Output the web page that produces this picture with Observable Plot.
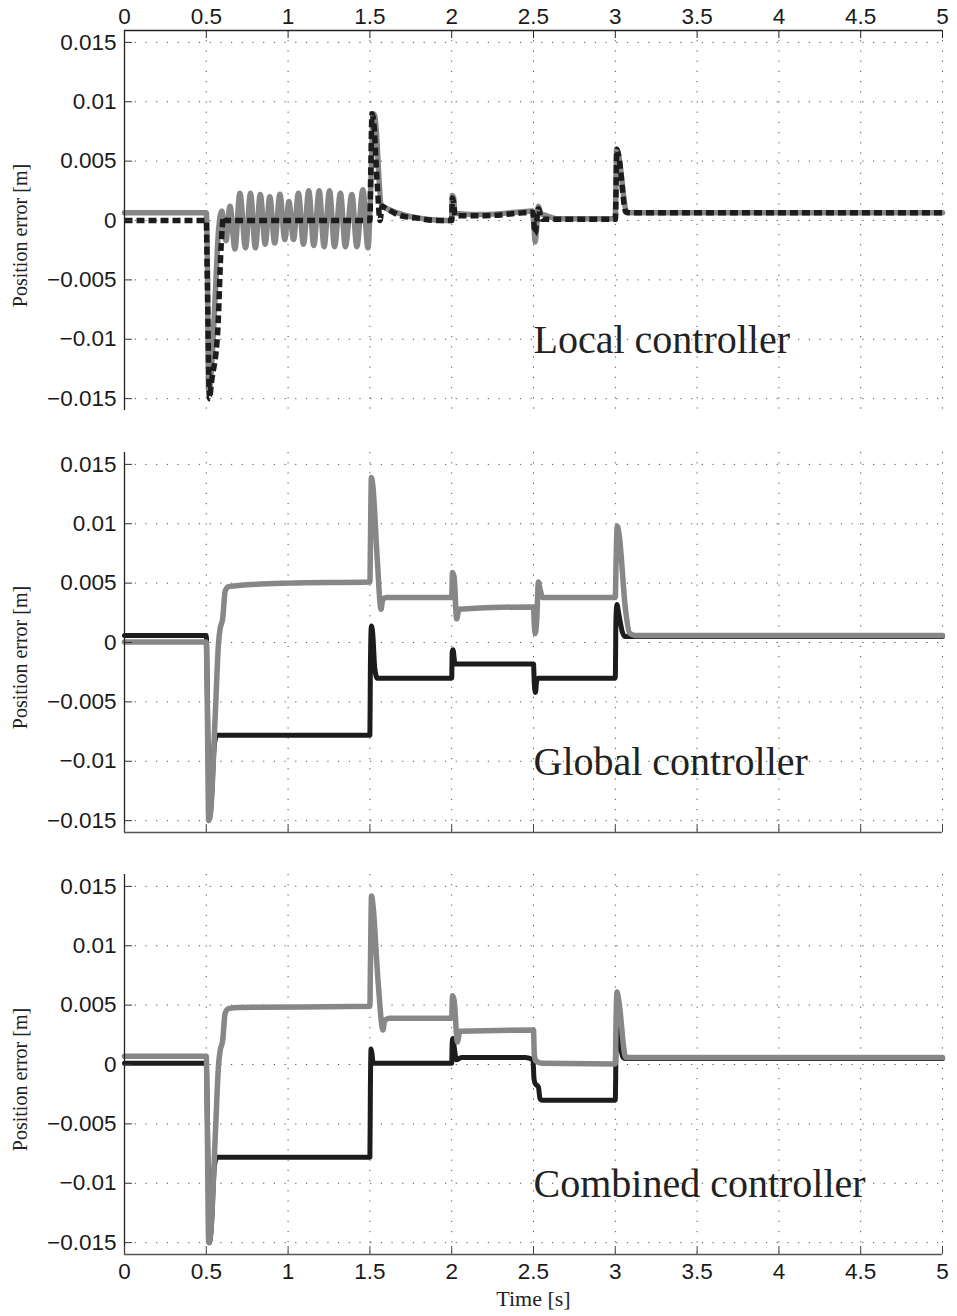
<!DOCTYPE html>
<html>
<head>
<meta charset="utf-8">
<script src="https://cdn.jsdelivr.net/npm/d3@7"></script>
<script src="https://cdn.jsdelivr.net/npm/@observablehq/plot@0.6"></script>
<style>
  body { margin: 0; background: #fff; }
  #chart { width: 957px; height: 1316px; display: flex; flex-direction: column; }
  #chart svg { display: block; overflow: visible; }
</style>
</head>
<body>
<div id="chart"></div>
<script>
// Axis ticks and labels
const xTicks = [0, 0.5, 1, 1.5, 2, 2.5, 3, 3.5, 4, 4.5, 5];
const xTickLabels = ["0", "0.5", "1", "1.5", "2", "2.5", "3", "3.5", "4", "4.5", "5"];
const yTicks = [-0.015, -0.01, -0.005, 0, 0.005, 0.01, 0.015];
const yTickLabels = ["\u22120.015", "\u22120.01", "\u22120.005", "0", "0.005", "0.01", "0.015"];
const xDomain = [0, 5];
const yDomain = [-0.016, 0.016];
const panelTitles = ["Local controller", "Global controller", "Combined controller"];
const yAxisTitle = "Position error [m]";
const xAxisTitle = "Time [s]";

// Position error traces, [time s, error m]
const localGray = [
  [0, 0.00065], [0.5, 0.00065], [0.507, -0.004], [0.514, -0.0143], [0.524, -0.0138],
  [0.554, -0.0065], [0.575, -0.0008], [0.595, 0.0008], [0.62, -0.0017], [0.645, 0.0012],
  [0.675, -0.0024], [0.705, 0.0023], [0.74, -0.0023], [0.77, 0.0023], [0.80, -0.0023],
  [0.83, 0.0022], [0.86, -0.002], [0.888, 0.002], [0.918, -0.0019], [0.95, 0.0022],
  [0.98, -0.0016], [1.005, 0.0016], [1.033, -0.0016], [1.063, 0.0023], [1.094, -0.002],
  [1.126, 0.0025], [1.157, -0.0021], [1.19, 0.0025], [1.22, -0.0022], [1.253, 0.0025],
  [1.284, -0.0022], [1.32, 0.0023], [1.35, -0.0022], [1.39, 0.0022], [1.42, -0.0022],
  [1.457, 0.0026], [1.488, -0.0023], [1.508, 0.004], [1.52, 0.009], [1.53, 0.0088],
  [1.57, 0.0013], [1.62, 0.0009], [1.7, 0.0005], [1.8, 0.0002], [1.9, 0.00005], [2.0, 0],
  [2.003, 0.0021], [2.012, 0.0019], [2.02, 0.0006], [2.2, 0.0005], [2.4, 0.0007],
  [2.495, 0.0008], [2.503, -0.0005], [2.51, -0.0018], [2.518, -0.0008], [2.53, 0.0012],
  [2.545, 0.0006], [2.58, 0.0004], [2.65, 0.00015], [3.0, 0.00015], [3.008, 0.006],
  [3.02, 0.0055], [3.07, 0.0007], [3.1, 0.00065], [5, 0.00065]
];
const localBlack = [
  [0, 0], [0.5, 0], [0.505, -0.004], [0.52, -0.015], [0.53, -0.0138], [0.57, -0.0093],
  [0.59, -0.0023], [0.605, 0.0003], [0.62, 0], [1.5, 0], [1.505, 0.004], [1.513, 0.009],
  [1.522, 0.0085], [1.545, 0.003], [1.562, 0], [1.575, 0.0012], [1.6, 0.001], [1.69, 0.0004],
  [1.79, 0.0002], [1.9, 0], [2.0, 0], [2.004, 0.0019], [2.012, 0.0015], [2.02, 0.0004],
  [2.2, 0.0004], [2.4, 0.0006], [2.495, 0.0007], [2.51, -0.0011], [2.53, 0.001], [2.55, 0.0001],
  [3.0, 0.0001], [3.01, 0.006], [3.02, 0.0055], [3.065, 0.0007], [3.1, 0.00065], [5, 0.00065]
];
const globalBlack = [
  [0, 0.0006], [0.5, 0.0006], [0.506, -0.004], [0.52, -0.0148], [0.53, -0.0135],
  [0.55, -0.0085], [0.565, -0.0078], [1.0, -0.0078], [1.5, -0.0078], [1.503, -0.002],
  [1.509, 0.0014], [1.517, 0.0008], [1.53, -0.0022], [1.545, -0.003], [2.0, -0.003],
  [2.003, -0.0008], [2.008, -0.0006], [2.02, -0.0018], [2.5, -0.0018], [2.505, -0.0035],
  [2.512, -0.0042], [2.52, -0.0032], [2.53, -0.003], [3.0, -0.003], [3.004, 0.002],
  [3.01, 0.0032], [3.02, 0.0025], [3.045, 0.0008], [3.06, 0.0005], [5, 0.0005]
];
const globalGray = [
  [0, 0.00005], [0.5, 0.00005], [0.505, -0.004], [0.515, -0.015], [0.525, -0.0145],
  [0.555, -0.006], [0.575, 0], [0.585, 0.0012], [0.6, 0.002], [0.615, 0.0043],
  [0.635, 0.0047], [0.7, 0.0048], [1.0, 0.005], [1.5, 0.0051], [1.503, 0.008],
  [1.509, 0.0139], [1.518, 0.0132], [1.545, 0.007], [1.568, 0.0028], [1.578, 0.0036],
  [1.6, 0.0038], [2.0, 0.0038], [2.005, 0.0059], [2.015, 0.0055], [2.03, 0.002],
  [2.045, 0.0028], [2.5, 0.003], [2.505, 0.0015], [2.51, 0.00075], [2.52, 0.002],
  [2.53, 0.0051], [2.54, 0.0045], [2.555, 0.0038], [3.0, 0.0038], [3.005, 0.007],
  [3.012, 0.0098], [3.022, 0.0092], [3.063, 0.0027], [3.087, 0.0008], [3.12, 0.0006], [5, 0.0006]
];
const combinedBlack = [
  [0, 0.0001], [0.5, 0.0001], [0.506, -0.004], [0.52, -0.015], [0.53, -0.0138],
  [0.55, -0.0085], [0.565, -0.0078], [1.5, -0.0078], [1.503, -0.002], [1.507, 0.0013],
  [1.513, 0.0009], [1.52, 0.0001], [2.0, 0.0001], [2.003, 0.0018], [2.007, 0.0022],
  [2.015, 0.0015], [2.028, 0.0004], [2.06, 0.0006], [2.45, 0.0006], [2.497, 0.0004],
  [2.503, -0.0012], [2.51, -0.0016], [2.53, -0.0019], [2.54, -0.0029], [2.55, -0.003],
  [3.0, -0.003], [3.004, 0.001], [3.01, 0.0032], [3.02, 0.0024], [3.047, 0.0006],
  [3.06, 0.0005], [5, 0.0005]
];
const combinedGray = [
  [0, 0.0007], [0.5, 0.0007], [0.505, -0.004], [0.515, -0.015], [0.525, -0.0145],
  [0.555, -0.006], [0.575, 0], [0.585, 0.0012], [0.6, 0.002], [0.615, 0.0043],
  [0.635, 0.0047], [0.7, 0.0048], [1.5, 0.0049], [1.503, 0.008], [1.51, 0.0142],
  [1.518, 0.0135], [1.55, 0.007], [1.58, 0.0029], [1.59, 0.0037], [1.62, 0.0039],
  [2.0, 0.0039], [2.005, 0.0058], [2.015, 0.0054], [2.035, 0.0019], [2.05, 0.0028],
  [2.5, 0.0029], [2.505, 0.0008], [2.515, 0.0003], [2.55, 0.0001], [3.0, 0.00005],
  [3.005, 0.004], [3.01, 0.0061], [3.02, 0.0055], [3.064, 0.0006], [3.08, 0.0006], [5, 0.0006]
];

const W = 957;
const margins = { left: 124, right: 15 };
const innerH = 380;
const innerW = W - margins.left - margins.right;
const tickLen = 8;
const labelSize = 22.5;
const sans = "'Liberation Sans', Arial, Helvetica, sans-serif";
const serif = "'Liberation Serif', 'Times New Roman', serif";
const grayColor = "#878787";
const blackColor = "#1c1c1c";

function panel({ gray, black, blackDashed, title, xAxis, height, marginTop, marginBottom }) {
  const grid = { stroke: "#333", strokeWidth: 1, strokeOpacity: 0.85 };
  const traces = blackDashed
    ? [
        Plot.line(gray, { x: d => d[0], y: d => d[1], stroke: grayColor, strokeWidth: 5.5, curve: "monotone-x", strokeLinejoin: "round", strokeLinecap: "round" }),
        Plot.line(black, { x: d => d[0], y: d => d[1], stroke: blackColor, strokeWidth: 5.5, curve: "monotone-x", strokeDasharray: "8,4", strokeLinecap: "butt" })
      ]
    : [
        Plot.line(black, { x: d => d[0], y: d => d[1], stroke: blackColor, strokeWidth: 5, curve: "monotone-x", strokeLinejoin: "round", strokeLinecap: "round" }),
        Plot.line(gray, { x: d => d[0], y: d => d[1], stroke: grayColor, strokeWidth: 5.5, curve: "monotone-x", strokeLinejoin: "round", strokeLinecap: "round" })
      ];
  const marks = [
    // dotted grid
    Plot.ruleX(xTicks, { x: d => d, ...grid, strokeDasharray: "1.2,9" }),
    Plot.ruleY(yTicks, { y: d => d, ...grid, strokeDasharray: "1.2,9.5" }),
    ...traces,
    // axis lines
    Plot.ruleX([xDomain[0]], { stroke: "#222", strokeWidth: 1.3 }),
    xAxis === "top"
      ? Plot.ruleY([yDomain[1]], { stroke: "#222", strokeWidth: 1.3 })
      : Plot.ruleY([yDomain[0]], { stroke: "#555", strokeWidth: 1.3 }),
    // inward ticks
    Plot.tickY(yTicks, { y: d => d, stroke: "#333", strokeWidth: 1, insetRight: innerW - tickLen }),
    xAxis === "top"
      ? Plot.tickX(xTicks, { x: d => d, stroke: "#222", strokeWidth: 1, insetBottom: innerH - tickLen })
      : Plot.tickX(xTicks, { x: d => d, stroke: "#444", strokeWidth: 1, insetTop: innerH - tickLen }),
    // tick labels and titles
    Plot.axisY({ ticks: yTicks, tickFormat: d => yTickLabels[yTicks.indexOf(d)], tickSize: 0, tickPadding: 8, fontSize: labelSize, fill: "#1a1a1a", label: null }),
    Plot.text([yAxisTitle], { frameAnchor: "left", textAnchor: "middle", dx: -104, dy: 15, rotate: -90, text: d => d, fontFamily: serif, fontSize: 20, fill: "#222" }),
    Plot.text([title], { x: 2.5, y: -0.0101, text: d => d, textAnchor: "start", fontFamily: serif, fontSize: 40, fill: "#222" })
  ];
  if (xAxis === "top") {
    marks.push(Plot.axisX({ anchor: "top", ticks: xTicks, tickFormat: d => xTickLabels[xTicks.indexOf(d)], tickSize: 0, tickPadding: 7, fontSize: labelSize, fill: "#1a1a1a", label: null }));
  } else if (xAxis === "bottom") {
    marks.push(Plot.axisX({ anchor: "bottom", ticks: xTicks, tickFormat: d => xTickLabels[xTicks.indexOf(d)], tickSize: 0, tickPadding: 9, fontSize: labelSize, fill: "#1a1a1a", label: null }));
    marks.push(Plot.text([xAxisTitle], { frameAnchor: "bottom", dy: 51, text: d => d, fontFamily: serif, fontSize: 22, fill: "#222" }));
  }
  return Plot.plot({
    width: W,
    height,
    marginTop,
    marginBottom,
    marginLeft: margins.left,
    marginRight: margins.right,
    x: { domain: xDomain, axis: xAxis === "none" ? null : undefined },
    y: { domain: yDomain },
    style: { fontFamily: sans, fontSize: `${labelSize}px`, background: "#fff", color: "#1a1a1a" },
    marks
  });
}

const chart = document.getElementById("chart");
chart.append(panel({ gray: localGray, black: localBlack, blackDashed: true, title: panelTitles[0], xAxis: "top", height: 430, marginTop: 30, marginBottom: 20 }));
chart.append(panel({ gray: globalGray, black: globalBlack, blackDashed: false, title: panelTitles[1], xAxis: "none", height: 422, marginTop: 22, marginBottom: 20 }));
chart.append(panel({ gray: combinedGray, black: combinedBlack, blackDashed: false, title: panelTitles[2], xAxis: "bottom", height: 464, marginTop: 22, marginBottom: 62 }));
</script>
</body>
</html>
